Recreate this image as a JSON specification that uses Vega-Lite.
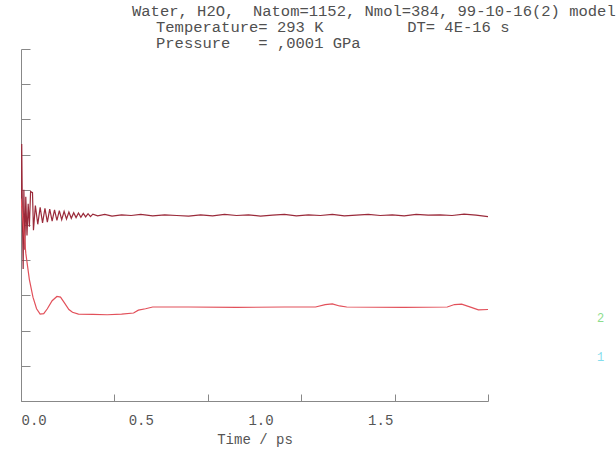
{
  "$schema": "https://vega.github.io/schema/vega-lite/v6.json",
  "autosize": "none",
  "width": 467,
  "height": 352,
  "padding": {"left": 21, "top": 49, "right": 128, "bottom": 52},
  "background": "white",
  "config": {"view": {"stroke": null}},
  "title": {
    "text": [
      "Water,\u00a0H2O,\u00a0\u00a0Natom=1152,\u00a0Nmol=384,\u00a099-10-16(2)\u00a0model",
      "\u2800\u2800Temperature=\u00a0293\u00a0K\u00a0\u00a0\u00a0\u00a0\u00a0\u00a0\u00a0\u00a0\u00a0DT=\u00a04E-16\u00a0s",
      "\u2800\u2800Pressure\u00a0\u00a0\u00a0=\u00a0,0001\u00a0GPa"
    ],
    "anchor": "start",
    "frame": "group",
    "dx": 111,
    "dy": 7,
    "offset": 4,
    "font": "Liberation Mono, DejaVu Sans Mono",
    "fontSize": 15.5,
    "fontWeight": "normal",
    "color": "#505050",
    "lineHeight": 16
  },
  "datasets": {
    "upper": [
      {"t": 0.000, "v": 5.5}, {"t": 0.003, "v": 7.3}, {"t": 0.006, "v": 5.2}, {"t": 0.009, "v": 3.75},
      {"t": 0.012, "v": 6.0}, {"t": 0.016, "v": 4.3}, {"t": 0.020, "v": 5.8}, {"t": 0.025, "v": 4.7},
      {"t": 0.030, "v": 5.6}, {"t": 0.035, "v": 4.95}, {"t": 0.040, "v": 5.95}, {"t": 0.048, "v": 5.92},
      {"t": 0.052, "v": 4.85}, {"t": 0.060, "v": 5.55}, {"t": 0.070, "v": 5.02}, {"t": 0.080, "v": 5.50},
      {"t": 0.090, "v": 5.06}, {"t": 0.100, "v": 5.47}, {"t": 0.110, "v": 5.08}, {"t": 0.120, "v": 5.45},
      {"t": 0.130, "v": 5.11}, {"t": 0.140, "v": 5.43}, {"t": 0.150, "v": 5.13}, {"t": 0.160, "v": 5.41},
      {"t": 0.170, "v": 5.15}, {"t": 0.180, "v": 5.39}, {"t": 0.190, "v": 5.17}, {"t": 0.200, "v": 5.37},
      {"t": 0.210, "v": 5.19}, {"t": 0.220, "v": 5.35}, {"t": 0.230, "v": 5.21}, {"t": 0.240, "v": 5.34},
      {"t": 0.250, "v": 5.22}, {"t": 0.260, "v": 5.33}, {"t": 0.270, "v": 5.23}, {"t": 0.280, "v": 5.32},
      {"t": 0.290, "v": 5.24}, {"t": 0.300, "v": 5.31}, {"t": 0.320, "v": 5.26}, {"t": 0.350, "v": 5.30},
      {"t": 0.380, "v": 5.25}, {"t": 0.420, "v": 5.29}, {"t": 0.460, "v": 5.27}, {"t": 0.500, "v": 5.30},
      {"t": 0.550, "v": 5.26}, {"t": 0.600, "v": 5.29}, {"t": 0.650, "v": 5.27}, {"t": 0.700, "v": 5.25},
      {"t": 0.750, "v": 5.29}, {"t": 0.800, "v": 5.26}, {"t": 0.850, "v": 5.30}, {"t": 0.900, "v": 5.27},
      {"t": 0.950, "v": 5.29}, {"t": 1.000, "v": 5.25}, {"t": 1.050, "v": 5.28}, {"t": 1.100, "v": 5.30},
      {"t": 1.150, "v": 5.26}, {"t": 1.200, "v": 5.29}, {"t": 1.250, "v": 5.27}, {"t": 1.300, "v": 5.30},
      {"t": 1.350, "v": 5.26}, {"t": 1.400, "v": 5.28}, {"t": 1.450, "v": 5.30}, {"t": 1.500, "v": 5.27},
      {"t": 1.550, "v": 5.29}, {"t": 1.600, "v": 5.26}, {"t": 1.650, "v": 5.30}, {"t": 1.700, "v": 5.28},
      {"t": 1.750, "v": 5.29}, {"t": 1.800, "v": 5.27}, {"t": 1.850, "v": 5.31}, {"t": 1.900, "v": 5.28},
      {"t": 1.950, "v": 5.24}
    ],
    "lower": [
      {"t": 0.000, "v": 5.75}, {"t": 0.010, "v": 5.0}, {"t": 0.020, "v": 4.2}, {"t": 0.035, "v": 3.45},
      {"t": 0.050, "v": 2.95}, {"t": 0.065, "v": 2.62}, {"t": 0.080, "v": 2.47}, {"t": 0.095, "v": 2.48},
      {"t": 0.110, "v": 2.62}, {"t": 0.130, "v": 2.85}, {"t": 0.150, "v": 2.97}, {"t": 0.165, "v": 2.95},
      {"t": 0.180, "v": 2.80}, {"t": 0.200, "v": 2.60}, {"t": 0.215, "v": 2.52}, {"t": 0.240, "v": 2.47},
      {"t": 0.300, "v": 2.46}, {"t": 0.360, "v": 2.45}, {"t": 0.420, "v": 2.47}, {"t": 0.470, "v": 2.50},
      {"t": 0.490, "v": 2.58}, {"t": 0.520, "v": 2.62}, {"t": 0.550, "v": 2.67}, {"t": 0.700, "v": 2.67},
      {"t": 0.900, "v": 2.66}, {"t": 1.100, "v": 2.67}, {"t": 1.230, "v": 2.67}, {"t": 1.270, "v": 2.74},
      {"t": 1.300, "v": 2.76}, {"t": 1.330, "v": 2.70}, {"t": 1.360, "v": 2.67}, {"t": 1.600, "v": 2.66},
      {"t": 1.780, "v": 2.67}, {"t": 1.810, "v": 2.74}, {"t": 1.840, "v": 2.75}, {"t": 1.880, "v": 2.66},
      {"t": 1.910, "v": 2.59}, {"t": 1.950, "v": 2.60}
    ],
    "keys": [
      {"label": "2", "t": 2.42, "v": 2.36},
      {"label": "1", "t": 2.42, "v": 1.25}
    ]
  },
  "resolve": {"axis": {"x": "independent", "y": "independent"}},
  "layer": [
    {
      "data": {"name": "upper"},
      "mark": {"type": "line", "color": "#9a2a3a", "strokeWidth": 1.2, "clip": true},
      "encoding": {
        "x": {
          "field": "t", "type": "quantitative",
          "scale": {"domain": [0, 1.95], "nice": false, "zero": false},
          "axis": {
            "orient": "bottom",
            "values": [0, 0.5, 1, 1.5],
            "format": ".1f",
            "ticks": false,
            "domain": false,
            "grid": false,
            "labelFont": "Liberation Mono",
            "labelFontSize": 14,
            "labelColor": "#555555",
            "labelPadding": 12,
            "labelDx": 7,
            "title": "Time / ps",
            "titleFont": "Liberation Mono",
            "titleFontSize": 14,
            "titleFontWeight": "normal",
            "titleColor": "#555555",
            "titlePadding": 5
          }
        },
        "y": {
          "field": "v", "type": "quantitative",
          "scale": {"domain": [0, 10], "nice": false, "zero": false},
          "axis": {
            "values": [0, 1, 2, 3, 4, 5, 6, 7, 8, 9, 10],
            "labels": false,
            "tickSize": -9,
            "tickColor": "#888888",
            "domainColor": "#888888",
            "grid": false,
            "title": null
          }
        }
      }
    },
    {
      "data": {"name": "lower"},
      "mark": {"type": "line", "color": "#e2505a", "strokeWidth": 1.2, "clip": true},
      "encoding": {
        "x": {
          "field": "t", "type": "quantitative",
          "axis": {
            "orient": "bottom",
            "values": [0, 0.39, 0.78, 1.17, 1.56, 1.95],
            "labels": false,
            "tickSize": -7,
            "tickColor": "#888888",
            "domainColor": "#888888",
            "grid": false,
            "title": null
          }
        },
        "y": {"field": "v", "type": "quantitative", "axis": null}
      }
    },
    {
      "data": {"name": "keys"},
      "mark": {"type": "text", "font": "Liberation Mono", "fontSize": 12, "opacity": 0.7},
      "encoding": {
        "x": {"field": "t", "type": "quantitative", "axis": null},
        "y": {"field": "v", "type": "quantitative", "axis": null},
        "text": {"field": "label"},
        "color": {
          "field": "label", "type": "nominal",
          "scale": {"domain": ["1", "2"], "range": ["#4fcfe6", "#5cd05c"]},
          "legend": null
        }
      }
    }
  ]
}
